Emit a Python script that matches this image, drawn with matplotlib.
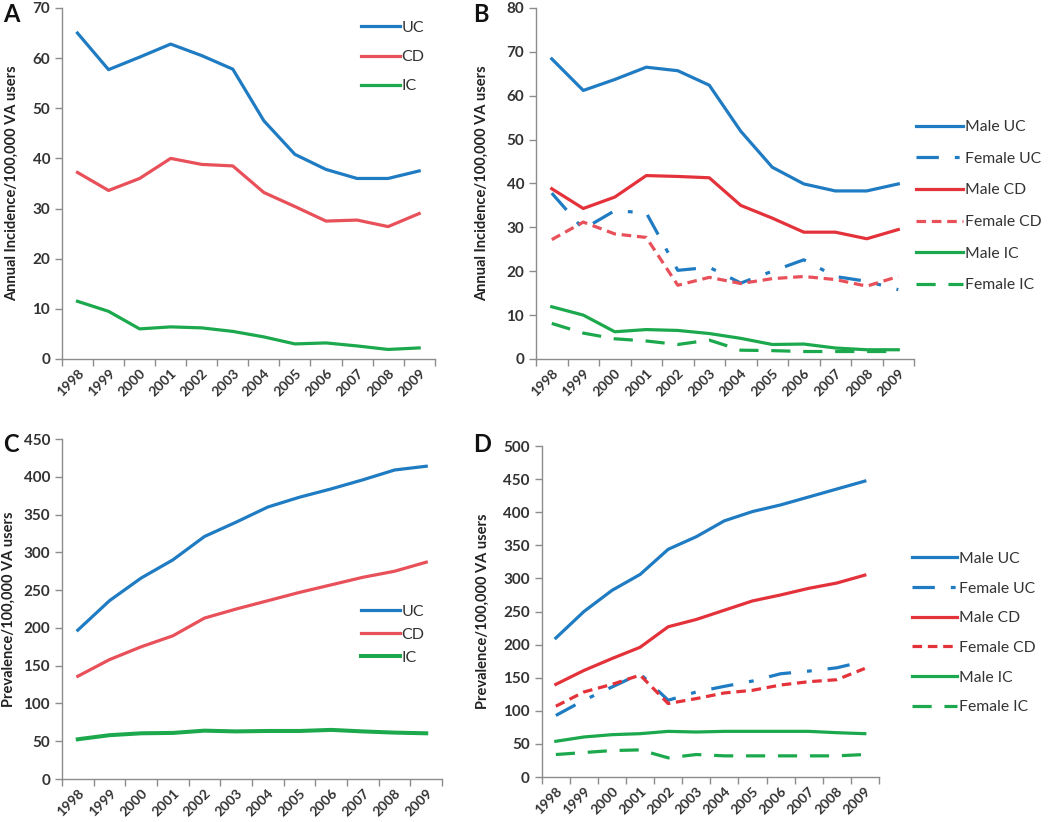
#Four-panel IBD incidence / prevalence trends in VA users
import matplotlib.pyplot as plt

years = ["1998", "1999", "2000", "2001", "2002", "2003",
         "2004", "2005", "2006", "2007", "2008", "2009"]

# Panel A: annual incidence, all users
inc_uc = [65, 57.7, 60.2, 62.8, 60.5, 57.8, 47.5, 40.8, 37.8, 36, 36, 37.5]
inc_cd = [37.2, 33.6, 36, 40, 38.8, 38.5, 33.2, 30.4, 27.5, 27.7, 26.4, 29]
inc_ic = [11.5, 9.5, 6, 6.4, 6.2, 5.5, 4.4, 3, 3.2, 2.6, 1.9, 2.2]

# Panel B: annual incidence by gender
inc_male_uc = [68.4, 61.2, 63.7, 66.5, 65.7, 62.4, 51.9, 43.7, 39.9, 38.3, 38.3, 39.9]
inc_female_uc = [37.8, 29.6, 33.8, 33.3, 20.2, 20.9, 17.3, 20, 22.6, 18.8, 17.7, 15.8]
inc_male_cd = [38.8, 34.3, 36.9, 41.8, 41.6, 41.3, 35, 32.1, 28.9, 28.9, 27.4, 29.5]
inc_female_cd = [27.2, 31.2, 28.5, 27.7, 16.8, 18.6, 17.2, 18.3, 18.8, 18.1, 16.6, 18.8]
inc_male_ic = [11.9, 10, 6.2, 6.7, 6.5, 5.8, 4.7, 3.3, 3.4, 2.5, 2.1, 2.1]
inc_female_ic = [8.1, 5.9, 4.6, 4.1, 3.3, 4.3, 2, 1.9, 1.7, 1.7, 1.7, 1.7]

# Panel C: prevalence, all users
prev_uc = [197, 236, 266, 290, 321, 340, 360, 373, 384, 396, 409, 414]
prev_cd = [136, 158, 175, 189.5, 213, 225, 236, 247, 257, 267, 275, 287]
prev_ic = [52.6, 58, 60.5, 61, 64, 63, 63.6, 63.6, 65, 63, 61.4, 60.5]

# Panel D: prevalence by gender
prev_male_uc = [210, 250, 282, 306, 344, 363, 387, 401, 411, 423, 435, 447]
prev_female_uc = [93, 116, 136, 156, 116, 128.5, 137, 145, 156, 160, 165, 175]
prev_male_cd = [140, 161, 179, 196, 227, 238, 252, 266, 275, 285, 293, 305]
prev_female_cd = [107, 128.5, 140, 154, 111, 118.5, 127, 131, 139, 144, 147, 164]
prev_male_ic = [54, 60.5, 64, 65.5, 69, 68, 69, 69, 69, 69, 67, 65.5]
prev_female_ic = [34, 37, 40, 41, 29, 34, 32, 32, 32, 32, 32, 34]

BLUE = "#1f7bc2"
RED = "#e4323b"
RED_LIGHT = "#e8505a"
GREEN = "#1ca84c"
AXIS = "#8c8c8c"
TEXT = "#333333"

plt.rcParams["font.family"] = ["Lato", "DejaVu Sans"]

fig = plt.figure(figsize=(10.5, 8.22), dpi=100)

ax_a = fig.add_axes([0.059, 0.5633, 0.355, 0.4270])
ax_b = fig.add_axes([0.5105, 0.5633, 0.360, 0.4270])
ax_c = fig.add_axes([0.059, 0.0523, 0.362, 0.4136])
ax_d = fig.add_axes([0.516, 0.0547, 0.321, 0.4027])

x = list(range(len(years)))
lw = 2.3


def style_axis(ax, ymax, ystep, ylabel, label_x):
    ax.set_xlim(-0.5, len(years) - 0.5)
    ax.set_ylim(0, ymax)
    ax.set_yticks(range(0, ymax + 1, ystep))
    # tick marks between categories, labels at category centres
    ax.set_xticks([i - 0.5 for i in range(len(years) + 1)])
    ax.set_xticklabels([])
    ax.set_xticks(x, minor=True)
    ax.set_xticklabels(years, minor=True, rotation=45, ha="right",
                       rotation_mode="anchor", fontsize=10, color=TEXT,
                       fontweight="bold")
    ax.tick_params(axis="x", which="major", length=5, color=AXIS, width=1)
    ax.tick_params(axis="x", which="minor", length=0, pad=6)
    ax.tick_params(axis="y", length=5, color=AXIS, width=1,
                   labelsize=11, labelcolor=TEXT)
    for lab in ax.get_yticklabels():
        lab.set_fontweight("bold")
    for side in ["top", "right"]:
        ax.spines[side].set_visible(False)
    for side in ["left", "bottom"]:
        ax.spines[side].set_color(AXIS)
        ax.spines[side].set_linewidth(1)
    ax.set_ylabel(ylabel, fontsize=10.5, fontweight="bold", color="#222222")
    ax.yaxis.set_label_coords(label_x, 0.5)


# Panel A
ax_a.plot(x, inc_uc, color=BLUE, lw=lw, label="UC")
ax_a.plot(x, inc_cd, color=RED_LIGHT, lw=lw, label="CD")
ax_a.plot(x, inc_ic, color=GREEN, lw=lw, label="IC")
style_axis(ax_a, 70, 10, "Annual Incidence/100,000 VA users", -0.115)
ax_a.legend(loc="upper left", bbox_to_anchor=(0.765, 1.005), frameon=False,
            handlelength=2.4, handletextpad=0.1, labelspacing=0.95,
            fontsize=11.5, labelcolor=TEXT)

# Panel B
ax_b.plot(x, inc_male_uc, color=BLUE, lw=lw, label="Male UC")
ax_b.plot(x, inc_female_uc, color=BLUE, lw=lw, dashes=(7, 5, 1.5, 5), label="Female UC")
ax_b.plot(x, inc_male_cd, color=RED, lw=lw, label="Male CD")
ax_b.plot(x, inc_female_cd, color=RED_LIGHT, lw=lw, dashes=(3, 1.8), label="Female CD")
ax_b.plot(x, inc_male_ic, color=GREEN, lw=lw, label="Male IC")
ax_b.plot(x, inc_female_ic, color=GREEN, lw=lw, dashes=(6, 4), label="Female IC")
style_axis(ax_b, 80, 10, "Annual Incidence/100,000 VA users", -0.124)
ax_b.legend(loc="center left", bbox_to_anchor=(0.968, 0.435), frameon=False,
            handlelength=3.0, handletextpad=0.1, labelspacing=1.12,
            fontsize=11.3, labelcolor=TEXT)

# Panel C
ax_c.plot(x, prev_uc, color=BLUE, lw=lw, label="UC")
ax_c.plot(x, prev_cd, color=RED_LIGHT, lw=lw, label="CD")
ax_c.plot(x, prev_ic, color=GREEN, lw=lw + 0.6, label="IC")
style_axis(ax_c, 450, 50, "Prevalence/100,000 VA users", -0.121)
ax_c.legend(loc="upper left", bbox_to_anchor=(0.75, 0.555), frameon=False,
            handlelength=2.4, handletextpad=0.1, labelspacing=0.55,
            fontsize=11.5, labelcolor=TEXT)

# Panel D
ax_d.plot(x, prev_male_uc, color=BLUE, lw=lw, label="Male UC")
ax_d.plot(x, prev_female_uc, color=BLUE, lw=lw, dashes=(7, 5, 1.5, 5), label="Female UC")
ax_d.plot(x, prev_male_cd, color=RED, lw=lw, label="Male CD")
ax_d.plot(x, prev_female_cd, color=RED, lw=lw, dashes=(3, 1.8), label="Female CD")
ax_d.plot(x, prev_male_ic, color=GREEN, lw=lw, label="Male IC")
ax_d.plot(x, prev_female_ic, color=GREEN, lw=lw, dashes=(6, 4), label="Female IC")
style_axis(ax_d, 500, 50, "Prevalence/100,000 VA users", -0.154)
ax_d.legend(loc="center left", bbox_to_anchor=(1.056, 0.435), frameon=False,
            handlelength=2.9, handletextpad=0.1, labelspacing=1.0,
            fontsize=11.3, labelcolor=TEXT)

# panel letters
for letter, px, py in [("A", 3, 22), ("B", 473, 22), ("C", 3, 452), ("D", 473, 452)]:
    fig.text(px / 1050, 1 - py / 822, letter, fontsize=17, fontweight="bold",
             color="#111111", ha="left", va="baseline")

fig.savefig("out.png", dpi=100)
